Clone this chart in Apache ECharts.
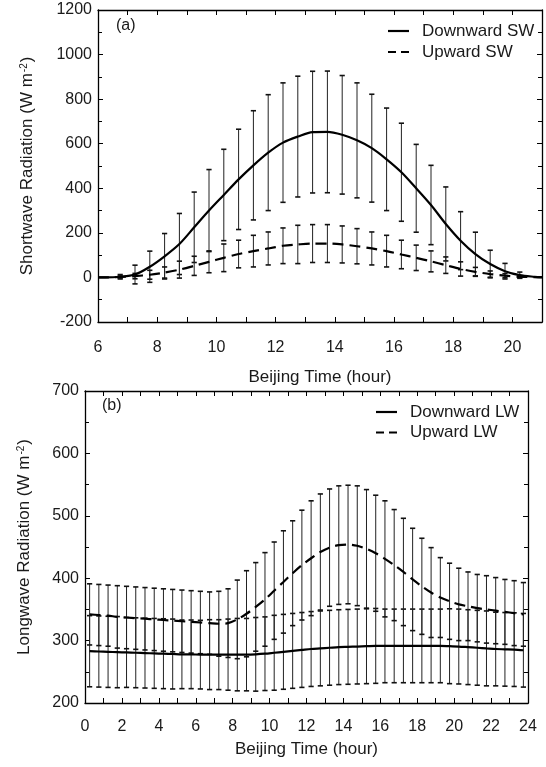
<!DOCTYPE html>
<html>
<head>
<meta charset="utf-8">
<script src="https://cdn.jsdelivr.net/npm/echarts@6/dist/echarts.min.js"></script>
<style>
  html, body { margin: 0; padding: 0; background: #fff; }
  #chart { width: 546px; height: 767px; }
</style>
</head>
<body>
<div id="chart"></div>
<script>
// ---------- Panel (a): shortwave ----------
const swHours = [6, 6.25, 6.75, 7.25, 7.75, 8.25, 8.75, 9.25, 9.75, 10.25, 10.75, 11.25, 11.75, 12.25, 12.75, 13.25, 13.75, 14.25, 14.75, 15.25, 15.75, 16.25, 16.75, 17.25, 17.75, 18.25, 18.75, 19.25, 19.75, 20.25, 20.75, 21];
const swDown = [0, 0, 3, 13, 48, 95, 150, 225, 300, 370, 440, 503, 560, 605, 632, 652, 653, 640, 615, 580, 530, 472, 400, 325, 240, 165, 105, 60, 28, 10, 3, 1];
const swDownSd = [null, null, 10, 42, 70, 102, 137, 158, 184, 205, 225, 245, 260, 268, 271, 273, 273, 266, 258, 242, 230, 220, 197, 178, 166, 130, 98, 62, 35, 14, null, null];
const swUp = [0, 0, 2, 6, 12, 22, 35, 52, 70, 88, 105, 118, 130, 142, 148, 152, 152, 148, 140, 130, 118, 103, 88, 72, 55, 38, 25, 15, 8, 3, 1, 0];
const swUpSd = [null, null, 5, 12, 20, 25, 38, 43, 49, 62, 62, 71, 74, 80, 86, 85, 85, 83, 79, 74, 71, 64, 57, 47, 37, 32, 20, 14, 9, 4, null, null];

// ---------- Panel (b): longwave ----------
const lwHours = [0.25, 0.75, 1.25, 1.75, 2.25, 2.75, 3.25, 3.75, 4.25, 4.75, 5.25, 5.75, 6.25, 6.75, 7.25, 7.75, 8.25, 8.75, 9.25, 9.75, 10.25, 10.75, 11.25, 11.75, 12.25, 12.75, 13.25, 13.75, 14.25, 14.75, 15.25, 15.75, 16.25, 16.75, 17.25, 17.75, 18.25, 18.75, 19.25, 19.75, 20.25, 20.75, 21.25, 21.75, 22.25, 22.75, 23.25, 23.75];
const lwDown = [283, 282.5, 282, 281.5, 281, 280.5, 280, 279.5, 279, 278.5, 278, 278, 277.5, 277.5, 277.5, 277.5, 277.5, 277.5, 278, 279, 280.5, 282, 283.5, 285, 286.5, 287.5, 288.5, 289.5, 290, 290.5, 291, 291.5, 291.5, 291.5, 291.5, 291.5, 291.5, 291.5, 291.5, 291, 290.5, 289.5, 288.5, 287.5, 286.5, 286, 285.5, 284.5];
const lwDownSd = [57, 57, 57, 57, 56, 56, 56, 56, 56, 56, 55, 55, 55, 56, 56, 57, 58, 58, 59, 59, 60, 60, 60, 60, 60, 60, 60, 60, 60, 60, 60, 60, 59, 59, 59, 59, 59, 59, 59, 60, 60, 60, 60, 60, 59, 59, 59, 59];
const lwUp = [342, 341, 340, 338, 337, 336, 335, 334, 333, 332, 331, 330, 329, 328, 327, 328, 334, 343, 354, 366, 380, 394, 408, 421, 432, 442, 449, 453, 454, 452, 447, 440, 431, 421, 410, 398, 387, 377, 369, 363, 358, 355, 352, 350, 348, 346, 344, 342];
const lwUpSd = [49, 49, 49, 50, 50, 50, 50, 50, 50, 50, 50, 50, 50, 50, 52, 55, 63, 69, 71, 75, 78, 82, 84, 88, 92, 93, 94, 95, 95, 96, 95, 93, 93, 89, 86, 82, 77, 72, 64, 61, 58, 55, 54, 54, 53, 52, 52, 51];

// ---------- tick labels / names ----------
const swYTicks = { min: -200, max: 1200, interval: 200 };
const lwYTicks = { min: 200, max: 700, interval: 100 };
const swXTicks = { min: 6, max: 21, interval: 1 };
const lwXTicks = { min: 0, max: 24, interval: 1 };
const xName = 'Beijing Time (hour)';
const swYName = ['Shortwave Radiation (W m', '-2', ')'];
const lwYName = ['Longwave Radiation (W m', '-2', ')'];
const swNames = ['Downward SW', 'Upward SW'];
const lwNames = ['Downward LW', 'Upward LW'];
const panelLabels = ['(a)', '(b)'];

// ---------- helpers ----------
const FONT = 'Liberation Sans, Arial, Helvetica, sans-serif';
const TXT = '#1a1a1a';
const pairs = (xs, ys) => xs.map((x, i) => [x, ys[i]]);
const bars = (xs, m, sd) => xs.map((x, i) => sd[i] == null ? null : [x, m[i] - sd[i], m[i] + sd[i]]).filter(d => d);

function errRender(params, api) {
  const x = api.value(0), lo = api.value(1), hi = api.value(2);
  const a = api.coord([x, lo]);
  const b = api.coord([x, hi]);
  const w = 2.6;
  const s = { stroke: '#222', lineWidth: 1 };
  const c = { stroke: '#111', lineWidth: 1.6 };
  return {
    type: 'group',
    children: [
      { type: 'line', shape: { x1: a[0], y1: a[1], x2: b[0], y2: b[1] }, style: s },
      { type: 'line', shape: { x1: a[0] - w, y1: a[1], x2: a[0] + w, y2: a[1] }, style: c },
      { type: 'line', shape: { x1: b[0] - w, y1: b[1], x2: b[0] + w, y2: b[1] }, style: c }
    ]
  };
}

function richName(parts) {
  return '{t|' + parts[0] + '}{s|' + parts[1] + '}{t|' + parts[2] + '}';
}
const richStyle = {
  t: { fontSize: 17, fontFamily: FONT, color: TXT },
  s: { fontSize: 10, fontFamily: FONT, color: TXT, verticalAlign: 'top', padding: [0, 1, 0, 1] }
};

const axisLineStyle = { color: '#000', width: 1.3 };

function xAxisMain(grid, t, gap, margin) {
  return {
    type: 'value', gridIndex: grid, position: 'bottom',
    min: t.min, max: t.max, interval: t.interval,
    axisLine: { show: true, onZero: false, lineStyle: axisLineStyle },
    axisTick: { show: true, inside: true, length: 5, lineStyle: { color: '#000', width: 1 } },
    axisLabel: {
      show: true, margin: margin, fontSize: 16, fontFamily: FONT, color: TXT,
      formatter: v => (Math.abs(v - Math.round(v)) < 1e-6 && Math.round(v) % 2 === 0) ? String(Math.round(v)) : ''
    },
    splitLine: { show: false },
    name: xName, nameLocation: 'middle', nameGap: gap,
    nameTextStyle: { fontSize: 17, fontFamily: FONT, color: TXT }
  };
}
function xAxisTop(grid, t) {
  return {
    type: 'value', gridIndex: grid, position: 'top',
    min: t.min, max: t.max, interval: t.interval,
    axisLine: { show: true, onZero: false, lineStyle: axisLineStyle },
    axisTick: { show: true, inside: true, length: 5, lineStyle: { color: '#000', width: 1 } },
    axisLabel: { show: false }, splitLine: { show: false }
  };
}
function yAxisMain(grid, t, parts, gap) {
  return {
    type: 'value', gridIndex: grid, position: 'left',
    min: t.min, max: t.max, interval: t.interval,
    axisLine: { show: true, onZero: false, lineStyle: axisLineStyle },
    axisTick: { show: true, inside: true, length: 5, lineStyle: { color: '#000', width: 1 } },
    minorTick: { show: true, splitNumber: 2, length: 4, lineStyle: { color: '#000', width: 1 } },
    axisLabel: { show: true, margin: 6, fontSize: 16, fontFamily: FONT, color: TXT, formatter: v => String(v) },
    splitLine: { show: false }, minorSplitLine: { show: false },
    name: richName(parts), nameLocation: 'middle', nameGap: gap,
    nameTextStyle: { rich: richStyle }
  };
}
function yAxisRight(grid, t) {
  return {
    type: 'value', gridIndex: grid, position: 'right',
    min: t.min, max: t.max, interval: t.interval,
    axisLine: { show: true, onZero: false, lineStyle: axisLineStyle },
    axisTick: { show: true, inside: true, length: 5, lineStyle: { color: '#000', width: 1 } },
    minorTick: { show: true, splitNumber: 2, length: 4, lineStyle: { color: '#000', width: 1 } },
    axisLabel: { show: false }, splitLine: { show: false }, minorSplitLine: { show: false }
  };
}

const DASH = [11, 6];
function lineSeries(name, xi, yi, xs, ys, dashed) {
  return {
    name: name, type: 'line', xAxisIndex: xi, yAxisIndex: yi,
    data: pairs(xs, ys), showSymbol: false, symbol: 'none', smooth: 0.3,
    lineStyle: { color: '#000', width: 2.2, type: dashed ? DASH : 'solid' },
    itemStyle: { color: '#000' }, z: 5, silent: true, animation: false
  };
}
function errSeries(xi, yi, data) {
  return {
    type: 'custom', xAxisIndex: xi, yAxisIndex: yi, data: data,
    encode: { x: 0, y: [1, 2] }, renderItem: errRender, z: 3, silent: true, animation: false
  };
}

// hand-drawn legend (line sample + label), one row per series
function legendGraphics(names, x0, y0, rowGap) {
  const out = [];
  names.forEach((n, i) => {
    const y = y0 + i * rowGap;
    out.push({
      type: 'line', shape: { x1: x0, y1: y, x2: x0 + 21, y2: y },
      style: { stroke: '#000', lineWidth: 2.2, lineDash: i === 1 ? [8, 5] : null }
    });
    out.push({
      type: 'text', x: x0 + 34, y: y,
      style: { text: n, fontSize: 17, fontFamily: FONT, fill: TXT, verticalAlign: 'middle' }
    });
  });
  return out;
}

const option = {
  animation: false,
  backgroundColor: '#fff',
  grid: [
    { left: 98, right: 4, top: 10, height: 312 },
    { left: 85, right: 18, top: 391, height: 312 }
  ],
  xAxis: [
    xAxisMain(0, swXTicks, 47, 18), xAxisTop(0, swXTicks),
    xAxisMain(1, lwXTicks, 38, 16), xAxisTop(1, lwXTicks)
  ],
  yAxis: [
    yAxisMain(0, swYTicks, swYName, 62), yAxisRight(0, swYTicks),
    yAxisMain(1, lwYTicks, lwYName, 52), yAxisRight(1, lwYTicks)
  ],
  graphic: [
    { type: 'text', left: 116, top: 18, style: { text: panelLabels[0], fontSize: 16, fontFamily: FONT, fill: TXT } },
    { type: 'text', left: 102, top: 398, style: { text: panelLabels[1], fontSize: 16, fontFamily: FONT, fill: TXT } }
  ].concat(legendGraphics(swNames, 388, 31, 21)).concat(legendGraphics(lwNames, 376, 412, 20.5)),
  series: [
    errSeries(0, 0, bars(swHours, swDown, swDownSd)),
    errSeries(0, 0, bars(swHours, swUp, swUpSd)),
    lineSeries(swNames[0], 0, 0, swHours, swDown, false),
    lineSeries(swNames[1], 0, 0, swHours, swUp, true),
    errSeries(2, 2, bars(lwHours, lwDown, lwDownSd)),
    errSeries(2, 2, bars(lwHours, lwUp, lwUpSd)),
    lineSeries(lwNames[0], 2, 2, lwHours, lwDown, false),
    lineSeries(lwNames[1], 2, 2, lwHours, lwUp, true)
  ]
};

const chart = echarts.init(document.getElementById('chart'), null, { renderer: 'canvas' });
chart.setOption(option);
</script>
</body>
</html>
